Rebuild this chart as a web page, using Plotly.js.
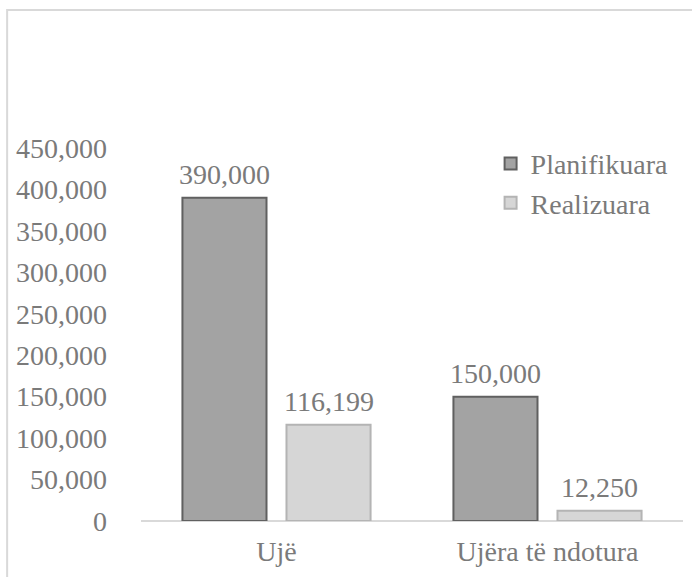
<!DOCTYPE html>
<html>
<head>
<meta charset="utf-8">
<script src="https://cdn.plot.ly/plotly-3.0.1.min.js"></script>
<style>
html,body{margin:0;padding:0;background:#fff;}
#chart{width:692px;height:577px;}
</style>
</head>
<body>
<div id="chart"></div>
<script>
const categories = ["Ujë", "Ujëra të ndotura"];
const seriesNames = ["Planifikuara", "Realizuara"];
const planifikuara = [390000, 150000];
const realizuara = [116199, 12250];
const yTicks = [0, 50000, 100000, 150000, 200000, 250000, 300000, 350000, 400000, 450000];

const fontFam = "Liberation Serif";
const txtCol = "#7a7a7a";
const fs = 28;

const traces = [
  {
    type: "bar", name: seriesNames[0], x: categories, y: planifikuara,
    marker: {color: "#a3a3a3", line: {color: "#606060", width: 2}}
  },
  {
    type: "bar", name: seriesNames[1], x: categories, y: realizuara,
    marker: {color: "#d6d6d6", line: {color: "#b4b4b4", width: 2}}
  }
];

const annotations = [];
[planifikuara, realizuara].forEach((arr, si) => {
  arr.forEach((v, i) => {
    annotations.push({
      x: categories[i], y: v, xref: "x", yref: "y",
      text: v.toLocaleString("en-US"), showarrow: false,
      xanchor: "center", yanchor: "bottom",
      xshift: si === 0 ? -52 : 52, yshift: 6,
      font: {family: fontFam, size: fs, color: txtCol}
    });
  });
});

const layout = {
  width: 692, height: 577,
  margin: {l: 141, r: 9, t: 148, b: 56},
  paper_bgcolor: "#fff", plot_bgcolor: "#fff",
  font: {family: fontFam, size: fs, color: txtCol},
  barmode: "group", bargap: 0.232, bargroupgap: 0.192,
  showlegend: true,
  legend: {x: 0.645, y: 1.025, xanchor: "left", yanchor: "top",
           bgcolor: "rgba(0,0,0,0)", font: {family: fontFam, size: fs, color: txtCol},
           itemsizing: "constant", tracegroupgap: 0},
  xaxis: {type: "category", showgrid: false, zeroline: false, showline: false,
          ticks: "", ticklabelstandoff: 11,
          tickfont: {family: fontFam, size: fs, color: txtCol}},
  yaxis: {range: [0, 450000], tickvals: yTicks, tickformat: ",d",
          showgrid: false, zeroline: true, zerolinecolor: "#d9d9d9", zerolinewidth: 2,
          showline: false, ticks: "", ticklabelstandoff: 33,
          tickfont: {family: fontFam, size: fs, color: txtCol}},
  annotations: annotations,
  shapes: [{type: "rect", xref: "paper", yref: "paper",
            x0: -0.247, x1: 1.2, y0: -0.3, y1: 1.37,
            line: {color: "#d9d9d9", width: 2}, fillcolor: "rgba(0,0,0,0)", layer: "below"}]
};

Plotly.newPlot("chart", traces, layout, {displayModeBar: false, staticPlot: true});
</script>
</body>
</html>
